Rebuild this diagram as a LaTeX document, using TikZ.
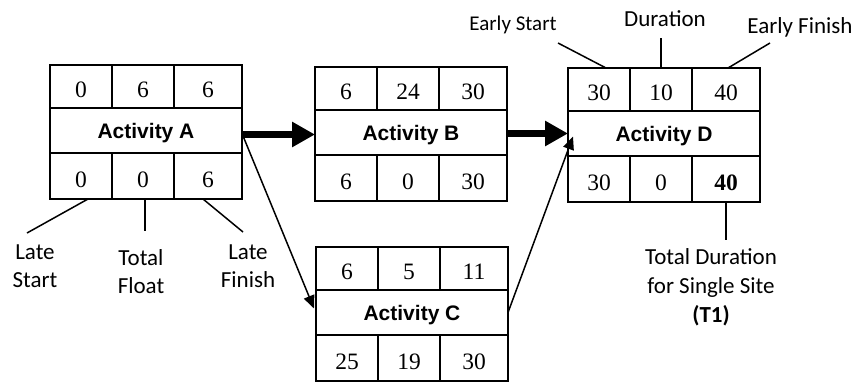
\documentclass[tikz,border=0pt]{standalone}
\usepackage{fontspec}
\setmainfont{Liberation Serif}
\newfontfamily\arialf{Liberation Sans}
\newfontfamily\calf{Carlito}
\usetikzlibrary{arrows.meta}
\begin{document}
\begin{tikzpicture}[x=1pt,y=-1pt,
  cellbase/.style={draw, line width=2.3pt, inner sep=0pt, outer sep=0pt, anchor=north west},
  numcell/.style={cellbase, font=\fontsize{23.5}{25}\selectfont, text height=22pt, text depth=0pt},
  topcell/.style={numcell, minimum height=43pt},
  botcell/.style={numcell, minimum height=46pt},
  midcell/.style={cellbase, minimum width=192pt, minimum height=45pt, font=\arialf\bfseries\fontsize{21}{24}\selectfont, text height=15pt, text depth=0pt},
  lbl/.style={font=\calf\fontsize{23}{28}\selectfont, align=center, inner sep=0pt},
  lblline/.style={line width=1.5pt},
  bigarrow/.style={line width=7pt, -{Triangle[length=23pt,width=24pt]}},
  thinarrow/.style={line width=1.5pt, -{Triangle[length=13pt,width=11pt]}}
]
\useasboundingbox (0,0) rectangle (858,383);

\foreach \n/\x/\y/\ta/\tb/\tc/\lab/\ba/\bb/\bc in {
  A/50/65/0/6/6/Activity A/0/0/6,
  B/315/67/6/24/30/Activity B/6/0/30,
  C/316/247/6/5/11/Activity C/25/19/30,
  D/568/68/30/10/40/Activity D/30/0/{\textbf{40}}}{
  \node[topcell, minimum width=62pt] (\n-t1) at (\x,\y) {\ta};
  \node[topcell, minimum width=62pt] (\n-t2) at (\x+62,\y) {\tb};
  \node[topcell, minimum width=68pt] (\n-t3) at (\x+124,\y) {\tc};
  \node[midcell] (\n) at (\x,\y+43) {\lab};
  \node[botcell, minimum width=62pt] (\n-b1) at (\x,\y+88) {\ba};
  \node[botcell, minimum width=62pt] (\n-b2) at (\x+62,\y+88) {\bb};
  \node[botcell, minimum width=68pt] (\n-b3) at (\x+124,\y+88) {\bc};
}

% connectors
\draw[bigarrow] ([yshift=-4pt]A.east) -- ([yshift=-4pt]A.east -| B.west);
\draw[bigarrow] ([yshift=-1pt]B.east) -- ([yshift=-1pt]B.east -| D.west);
\draw[thinarrow] ([yshift=-3pt]A.east) -- ([xshift=-2pt,yshift=4pt]C.west);
\draw[thinarrow] (C.east) -- ([xshift=5pt,yshift=-3pt]D.west);

% bottom labels of A
\node[lbl, anchor=north] (LS) at (35,245) {Late\\Start};
\node[lbl, anchor=north] (TF) at (141,249) {Total\\Float};
\node[lbl, anchor=north] (LF) at (248,245) {Late\\Finish};
\draw[lblline] ([xshift=7pt]A-b1.south) -- ([xshift=-8pt,yshift=12pt]LS.north);
\draw[lblline] ([xshift=2pt]A-b2.south) -- ([xshift=2pt,yshift=-32pt]A-b2.south);
\draw[lblline] ([xshift=-5pt]A-b3.south) -- ([xshift=-5pt,yshift=13pt]LF.north);

% top labels of D
\node[lbl, anchor=base, font=\calf\fontsize{21}{25}\selectfont] (ES) at (513,30) {Early Start};
\node[lbl, anchor=base] (DU) at (665,26) {Duration};
\node[lbl, anchor=base] (EF) at (800,33) {Early Finish};
\draw[lblline] ([xshift=7pt]D-t1.north) -- ([xshift=45pt,yshift=-13pt]ES.base);
\draw[lblline] (D-t2.north) -- ([yshift=-12pt]DU.base -| D-t2.north);
\draw[lblline] ([xshift=2pt]D-t3.north) -- ([xshift=-30pt,yshift=-10pt]EF.base);

% total duration label
\node[lbl, anchor=north, font=\calf\fontsize{23}{29}\selectfont] (TD) at (711,248) {Total Duration\\for Single Site\\\textbf{(T1)}};
\draw[lblline] (D-b3.south) -- ([yshift=8pt]D-b3.south |- TD.north);
\end{tikzpicture}
\end{document}
